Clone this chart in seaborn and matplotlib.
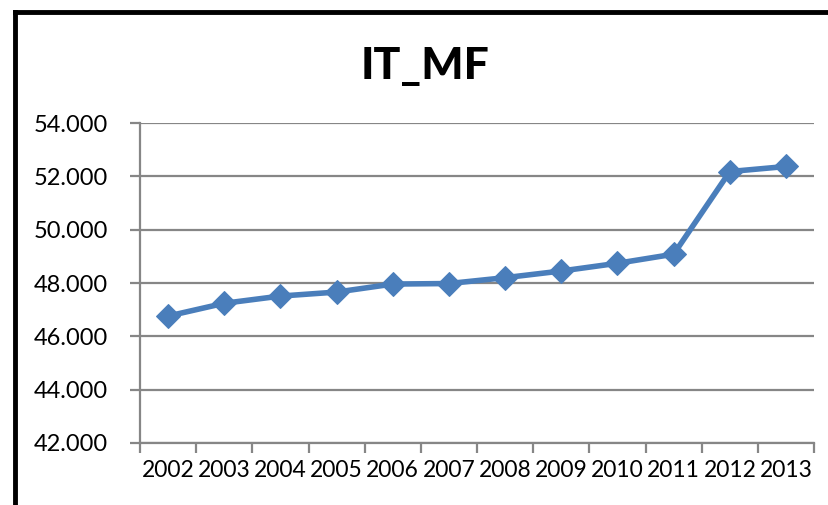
import matplotlib
matplotlib.use("Agg")
import matplotlib.pyplot as plt
from matplotlib.lines import Line2D
import pandas as pd
import seaborn as sns

years = ["2002", "2003", "2004", "2005", "2006", "2007",
         "2008", "2009", "2010", "2011", "2012", "2013"]
values = [46.76, 47.24, 47.51, 47.66, 47.96, 47.98,
          48.20, 48.45, 48.74, 49.08, 52.18, 52.37]
y_ticks = [42, 44, 46, 48, 50, 52, 54]

sns.set_style("white")
plt.rcParams["font.family"] = ["Lato", "DejaVu Sans"]
plt.rcParams["text.color"] = "black"
plt.rcParams["xtick.color"] = "black"
plt.rcParams["ytick.color"] = "black"

df = pd.DataFrame({"pos": range(len(years)), "value": values})

fig = plt.figure(figsize=(8.29, 5.05), dpi=100)
ax = fig.add_axes([0.1689, 0.1228, 0.8131, 0.6336])

grid_color = "#868686"
for t in y_ticks:
    ax.axhline(t, color=grid_color, linewidth=1.6, zorder=0)

sns.lineplot(data=df, x="pos", y="value", ax=ax, color="#4A7EBB",
             linewidth=4, marker="D", markersize=12.5,
             markeredgecolor="#4A7EBB", zorder=3)

ax.set_xlim(-0.5, len(years) - 0.5)
ax.set_ylim(42, 54)
ax.set_yticks(y_ticks)
ax.set_yticklabels([f"{t}.000" for t in y_ticks], fontsize=17)
ax.set_xticks([i - 0.5 for i in range(len(years) + 1)])
ax.set_xticklabels([])
ax.set_xticks(range(len(years)), minor=True)
ax.set_xticklabels(years, minor=True, fontsize=16.5)
ax.tick_params(axis="x", which="major", direction="out", length=7,
               width=1.6, color=grid_color, bottom=True)
ax.tick_params(axis="x", which="minor", length=0, pad=12)
ax.tick_params(axis="y", direction="out", length=7, width=1.6,
               color=grid_color, left=True, pad=16)
ax.set_xlabel("")
ax.set_ylabel("")
for side in ["top", "right"]:
    ax.spines[side].set_visible(False)
for side in ["left", "bottom"]:
    ax.spines[side].set_color(grid_color)
    ax.spines[side].set_linewidth(1.6)

fig.text(0.513, 0.87, "IT_MF", ha="center", va="center",
         fontsize=32, fontweight="black")

# outer chart frame, cut off at right and bottom
fig.add_artist(Line2D([0.0185, 0.0185], [0.0, 0.976], transform=fig.transFigure,
                      color="black", linewidth=3.5, solid_capstyle="projecting"))
fig.add_artist(Line2D([0.0185, 1.0], [0.976, 0.976], transform=fig.transFigure,
                      color="black", linewidth=3.5, solid_capstyle="projecting"))

fig.savefig("out.png", dpi=100)
